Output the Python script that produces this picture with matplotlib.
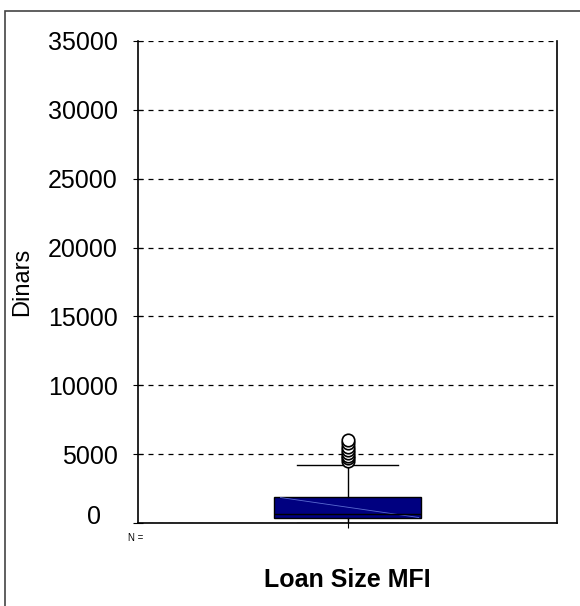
import matplotlib
matplotlib.use("Agg")
import matplotlib.pyplot as plt
from matplotlib.patches import Rectangle

plt.rcParams['font.family'] = ['Liberation Sans', 'DejaVu Sans']

# box plot summary (Dinars)
category = "Loan Size MFI"
q1 = 350
median = 650
q3 = 1900
whisker_low = 0
whisker_high = 4200
outliers = [4500, 4700, 4900, 5100, 5300, 5500, 5800, 6000]
yticks = [0, 5000, 10000, 15000, 20000, 25000, 30000, 35000]

W, H = 580, 606
fig = plt.figure(figsize=(W / 100, H / 100), dpi=100)
ax = fig.add_axes([138 / W, 1 - 523 / H, (557 - 138) / W, (523 - 41) / H])

stats = [dict(med=median, q1=q1, q3=q3, whislo=whisker_low, whishi=whisker_high,
              fliers=outliers, label="")]
bp = ax.bxp(stats, positions=[1], widths=0.353, patch_artist=True,
            boxprops=dict(facecolor='#000080', edgecolor='black', linewidth=1),
            medianprops=dict(color='black', linewidth=1),
            whiskerprops=dict(color='black', linewidth=1),
            capprops=dict(color='black', linewidth=1),
            capwidths=0.24,
            flierprops=dict(marker='o', markerfacecolor='white', markeredgecolor='black',
                            markersize=9, markeredgewidth=1.2))
# faint diagonal inside the box
ax.plot([1 - 0.16, 1 + 0.17], [q3 - 50, q1 + 50], color='#5a6ad0', linewidth=0.6)

ax.set_xlim(0.5, 1.5)
ax.set_ylim(0, 35000)
ax.set_yticks(yticks)
# the "0" label sits a bit left and up in the original, drawn separately
ax.set_yticklabels(["" if v == 0 else str(v) for v in yticks], fontsize=18)
ax.text(-37 / 419, 6 / 482, str(yticks[0]), transform=ax.transAxes, fontsize=18,
        ha='right', va='center')
ax.set_xticks([1])
ax.set_xticklabels([""])
ax.tick_params(axis='y', direction='inout', length=7, pad=11)
ax.tick_params(axis='x', direction='inout', length=7)
ax.yaxis.grid(True, linestyle=(0, (4, 4)), color='black', linewidth=0.9)
ax.set_axisbelow(True)
ax.spines['top'].set_visible(False)
for s in ['left', 'right', 'bottom']:
    ax.spines[s].set_linewidth(1.2)

fig.text(22 / W, 1 - 282 / H, "Dinars", fontsize=17, rotation=90,
         ha='center', va='center')
fig.text(128 / W, 1 - 538 / H, "N =", fontsize=7, va='center', ha='left')
fig.text(347 / W, 1 - 580 / H, category, fontsize=18, fontweight='bold',
         ha='center', va='center')

# outer frame (left and top edges visible)
fig.patches.append(Rectangle((5 / W, -0.05), 1.2, 1 - 11 / H + 0.05,
                             transform=fig.transFigure, fill=False,
                             edgecolor='#444444', linewidth=1.2))

fig.savefig("out.png", dpi=100)
